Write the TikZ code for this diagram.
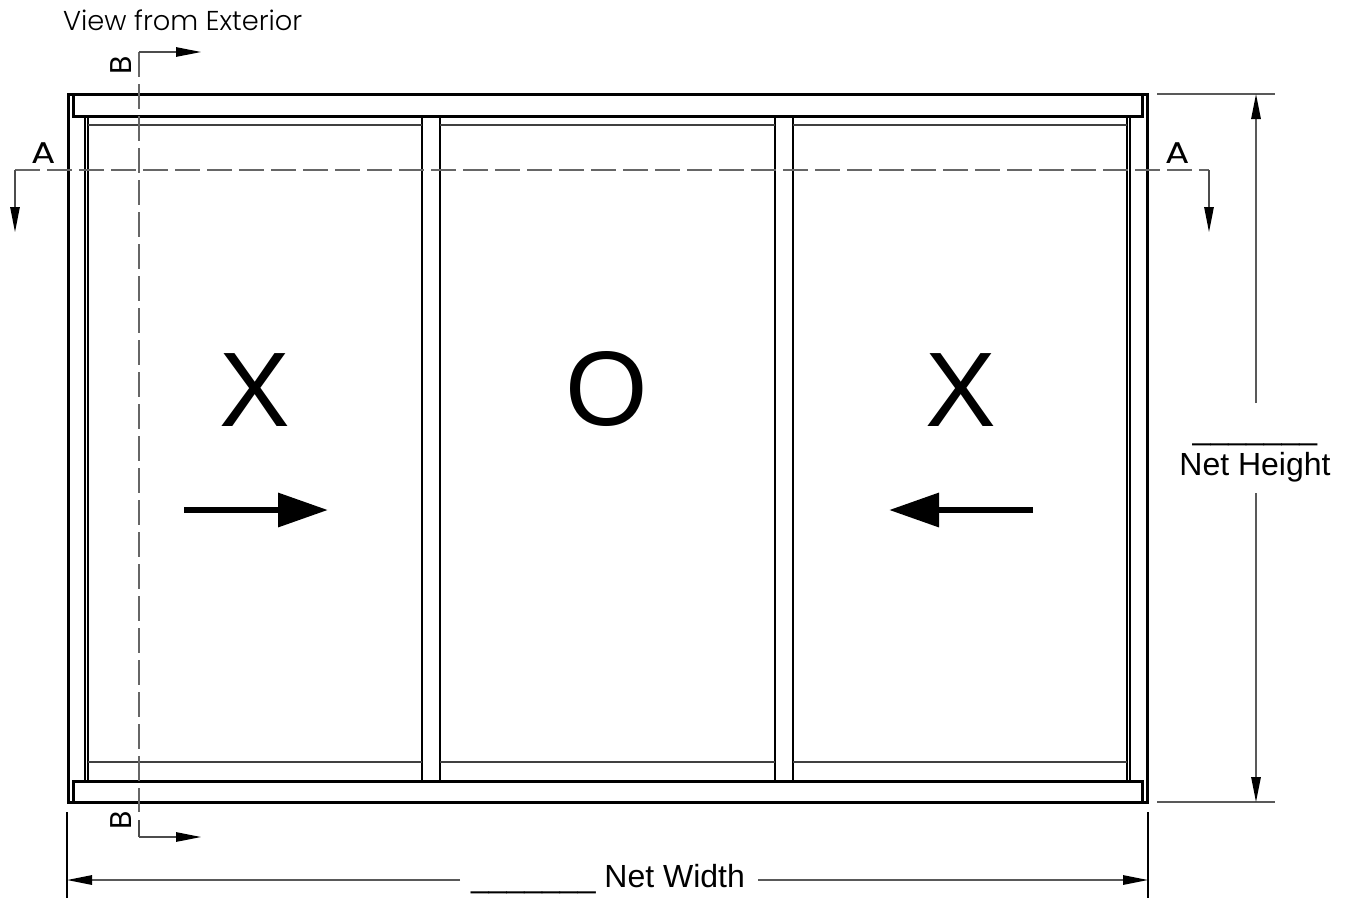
\documentclass[tikz,border=0pt]{standalone}
\usepackage{fontspec}
\setmainfont{Liberation Sans}
\newfontfamily\gothic{Poppins Light}
\newfontfamily\gothicreg{Poppins}
\usetikzlibrary{arrows.meta}
\tikzset{
  heavy/.style={draw=black,line width=3pt,line join=miter},
  mediumline/.style={draw=black,line width=2pt},
  glazing/.style={draw=black!75,line width=1.6pt},
  secline/.style={draw=black!60,line width=1.3pt,dash pattern=on 25pt off 7pt},
  leader/.style={draw=black!70,line width=1.2pt},
  dimline/.style={draw=black!65,line width=1.4pt},
  tiny tip/.style={-{Triangle[length=25pt,width=9.5pt,black]}},
  bigarrow/.style={draw=black,line width=6.5pt,-{Triangle[length=50pt,width=33pt]}},
  bigletter/.style={font=\fontsize{106}{110}\selectfont,inner sep=0pt},
  sec/.style={font=\gothicreg\fontsize{30}{34}\selectfont,inner sep=0pt},
}
\begin{document}
\begin{tikzpicture}[x=1pt,y=-1pt]
\useasboundingbox (0,0) rectangle (1349,898);
% labels
\node[font=\gothic\fontsize{27.3}{30}\selectfont,inner sep=0pt,anchor=base west] (view) at (63,30) {View from Exterior};
\node[bigletter] (x1) at (255,390) {X};
\node[bigletter] (o) at (607,389) {O};
\node[bigletter] (x2) at (961,390) {X};
% frame
\draw[heavy] (68,94) rectangle (1147,802);
\draw[heavy] (73,94) rectangle (1142,116);
\draw[heavy] (73,781) rectangle (1142,802);
% jambs
\draw[mediumline] (85,116) -- (85,781);
\draw[mediumline] (88,116) -- (88,781);
\draw[mediumline] (1127,116) -- (1127,781);
\draw[mediumline] (1130,116) -- (1130,781);
% mullions
\foreach \a/\b in {422/440,775/793}{
  \draw[mediumline] (\a,116) -- (\a,781);
  \draw[mediumline] (\b,116) -- (\b,781);
}
% glazing lines
\foreach \a/\b in {88/422,440/775,793/1127}{
  \draw[glazing] (\a,125) -- (\b,125);
  \draw[glazing] (\a,762) -- (\b,762);
}
% section A
\coordinate (aL) at (15,170);
\coordinate (aR) at (1209,170);
\coordinate (aLe) at (15,232);
\coordinate (aRe) at (1209,232);
\draw[secline] (aL) -- (aR);
\draw[leader,tiny tip] (aL) -- (aLe);
\draw[leader,tiny tip] (aR) -- (aRe);
\node[sec] (labA1) at (44,153) {\scalebox{1.2}[1]{A}};
\node[sec] (labA2) at (1178,153) {\scalebox{1.2}[1]{A}};
% section B
\coordinate (bT) at (139,52);
\coordinate (bB) at (139,837);
\coordinate (bTe) at (201,52);
\coordinate (bBe) at (201,837);
\draw[secline] (bT) -- (139,812);
\draw[leader] (139,820) -- (bB);
\draw[leader,tiny tip] (bT) -- (bTe);
\draw[leader,tiny tip] (bB) -- (bBe);
\node[sec,rotate=90] (labB1) at (121,65) {B};
\node[sec,rotate=90] (labB2) at (121,820) {B};
% big arrows
\coordinate (ar1a) at (184,510);
\coordinate (ar1b) at (328,510);
\coordinate (ar2a) at (1033,510);
\coordinate (ar2b) at (889,510);
\draw[bigarrow] (ar1a) -- (ar1b);
\draw[bigarrow] (ar2a) -- (ar2b);
% height dimension
\coordinate (hT) at (1256,94);
\coordinate (hB) at (1256,802);
\draw[dimline] (1157,94) -- (1275,94);
\draw[dimline] (1157,802) -- (1275,802);
\node[inner sep=0pt,align=center,font=\fontsize{32}{36}\selectfont] (nh) at (1255,461) {\_\_\_\_\_\_\_\\Net Height};
\draw[dimline,tiny tip] (1256,403) -- (hT);
\draw[dimline,tiny tip] (1256,493) -- (hB);
% width dimension
\coordinate (wL) at (67,880);
\coordinate (wR) at (1148,880);
\draw[draw=black,line width=1.1pt] (67,812) -- (67,898);
\draw[draw=black,line width=1.1pt] (1148,812) -- (1148,898);
\node[inner sep=0pt,font=\fontsize{32}{36}\selectfont,anchor=base] (nw) at (608,887) {\_\_\_\_\_\_\_ Net Width};
\draw[dimline,tiny tip] (460,880) -- (wL);
\draw[dimline,tiny tip] (758,880) -- (wR);
\end{tikzpicture}
\end{document}
